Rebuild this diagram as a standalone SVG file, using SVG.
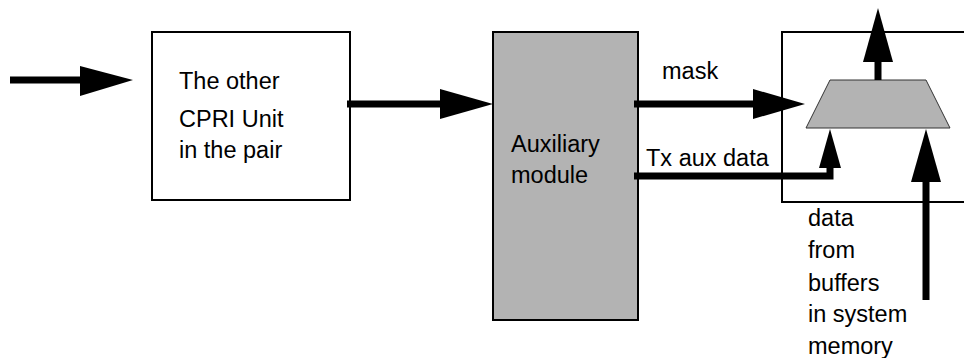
<svg xmlns="http://www.w3.org/2000/svg" width="964" height="358" viewBox="0 0 964 358">
<style>
.box{fill:#fff;stroke:#000;stroke-width:2}
.gray{fill:#b3b3b3;stroke:#000;stroke-width:2}
.trap{fill:#b3b3b3;stroke:#333;stroke-width:1}
.wire{fill:none;stroke:#000;stroke-width:7;stroke-linecap:butt;stroke-linejoin:miter}
.head{fill:#000;stroke:none}
text{font-family:"Liberation Sans",Arial,sans-serif;font-size:23.5px;fill:#000}
</style>
<rect width="964" height="358" fill="#fff"/>
<g id="other-cpri">
<rect class="box" x="152" y="32" width="198" height="168"/>
<text x="179" y="89">The other</text>
<text x="179" y="127">CPRI Unit</text>
<text x="179" y="158">in the pair</text>
</g>
<g id="aux-module">
<rect class="gray" x="493" y="32" width="145" height="288"/>
<text x="511" y="152">Auxiliary</text>
<text x="511" y="183">module</text>
</g>
<g id="mux-block">
<path class="box" d="M964,32 H782 V202 H964" fill="none"/>
<polygon class="trap" points="830,80 926,80 950,128 806,128"/>
</g>
<g id="labels">
<text x="662" y="79">mask</text>
<text x="646" y="166">Tx aux data</text>
<text x="808" y="226">data</text>
<text x="808" y="258">from</text>
<text x="808" y="291">buffers</text>
<text x="808" y="322">in system</text>
<text x="808" y="354">memory</text>
</g>
<g id="connectors">
<line class="wire" x1="10" y1="80" x2="82" y2="80"/>
<polygon class="head" points="80,66 133,80 80,96"/>
<line class="wire" x1="347" y1="104" x2="442" y2="104"/>
<polygon class="head" points="440,89 493,104 440,119"/>
<line class="wire" x1="634" y1="104" x2="755" y2="104"/>
<polygon class="head" points="753,89 805,104 753,119"/>
<polyline class="wire" points="634,176 830,176 830,166"/>
<polygon class="head" points="819,168 830,129 841,168"/>
<line class="wire" x1="878" y1="80" x2="878" y2="60"/>
<polygon class="head" points="863,62 878,8 893,62"/>
<line class="wire" x1="926" y1="300" x2="926" y2="180"/>
<polygon class="head" points="911,182 926,129 941,182"/>
</g>
</svg>
